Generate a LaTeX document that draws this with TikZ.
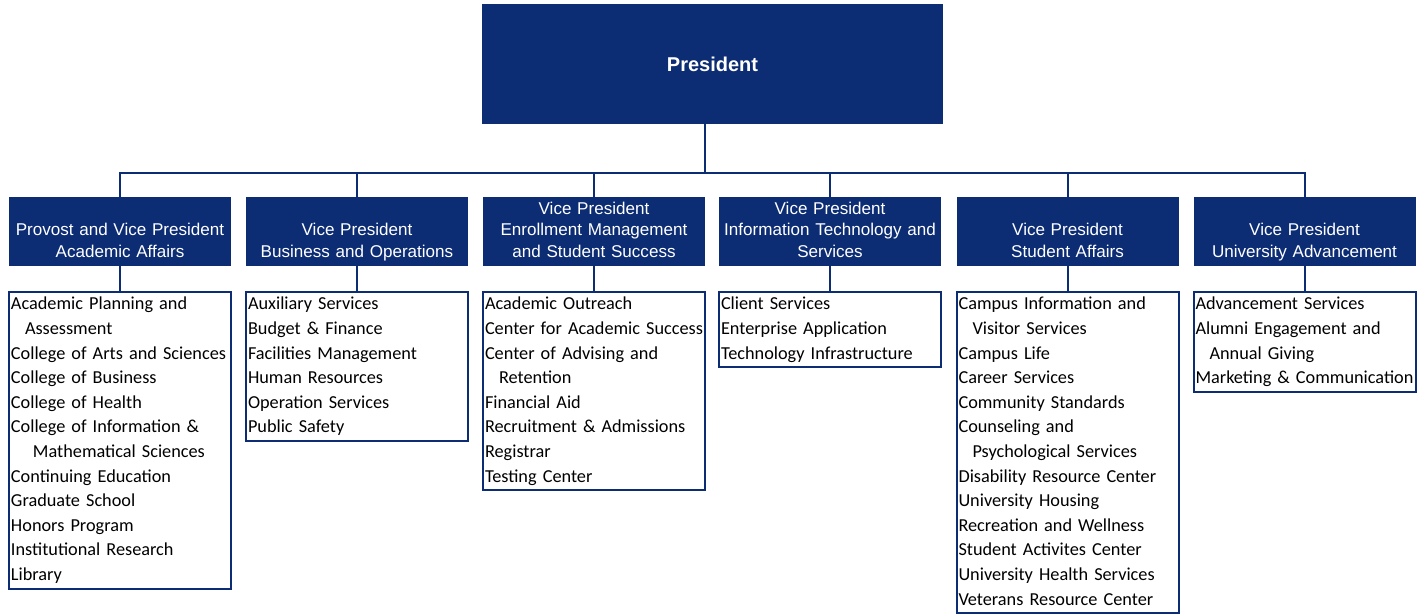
\documentclass[tikz,border=0pt]{standalone}
\usepackage{fontspec}
\setmainfont{Liberation Sans}
\newfontfamily\itemfont{Carlito}
\usetikzlibrary{positioning,calc}
\definecolor{navy}{RGB}{12,44,116}
\tikzset{presbox/.style={fill=navy,text=white,minimum width=345.75pt,minimum
height=90pt,inner sep=0pt,font=\fontsize{15}{18}\selectfont\bfseries},vpbox/.style={fill=navy,rectangle,text=white,minimum
width=166.5pt,minimum height=51.75pt,text width=163pt,align=center,inner sep=0pt,font=\fontsize{12.8}{16.1}\selectfont}}
\tikzstyle{listbox}   = [draw=navy, line width=1.5pt, anchor=north, text width=163.5pt, inner xsep=1.5pt, inner ysep=0.5pt, align=left, font=\itemfont\fontsize{13.7}{18.45}\selectfont]
\tikzstyle{link}      = [draw=navy, line width=1.5pt]
\newcommand{\ind}{\hspace*{10.5pt}}

\begin{document}
\begin{tikzpicture}[x=0.75pt,y=-0.75pt]
		\useasboundingbox (0,0) rectangle (1419,614);

		\node[presbox] (pres) at (712.5,64) {President};

		\begin{scope}[every node/.style={vpbox}]
			\node (vp1) at (120,231.5) {\strut\\Provost and Vice President\\Academic Affairs\strut};
			\node (vp2) at (357,231.5) {\strut\\Vice President\\Business and Operations\strut};
			\node (vp3) at (594,231.5) {\strut Vice President\\Enrollment Management\\and Student Success\strut};
			\node (vp4) at (830,231.5) {\strut Vice President\\Information Technology and\\Services\strut};
			\node (vp5) at (1067.5,231.5) {\strut\\Vice President\\Student Affairs\strut};
			\node (vp6) at (1304.5,231.5) {\strut\\Vice President\\University Advancement\strut};
		\end{scope}

		\node[listbox] (list1) at (120,291) {\strut Academic Planning and\\\ind Assessment\\College of Arts and Sciences\\College of Business\\College of Health\\College of Information \&\\\hspace*{16.5pt}Mathematical Sciences\\Continuing Education\\Graduate School\\Honors Program\\Institutional Research\\Library\strut};
		\node[listbox] (list2) at (357,291) {\strut Auxiliary Services\\Budget \& Finance\\Facilities Management\\Human Resources\\Operation Services\\Public Safety\strut};
		\node[listbox] (list3) at (594,291) {\strut Academic Outreach\\Center for Academic Success\\Center of Advising and\\\ind Retention\\Financial Aid\\Recruitment \& Admissions\\Registrar\\Testing Center\strut};
		\node[listbox] (list4) at (830,291) {\strut Client Services\\Enterprise Application\\Technology Infrastructure\strut};
		\node[listbox] (list5) at (1067.5,291) {\strut Campus Information and\\\ind Visitor Services\\Campus Life\\Career Services\\Community Standards\\Counseling and\\\ind Psychological Services\\Disability Resource Center\\University Housing\\Recreation and Wellness\\Student Activites Center\\University Health Services\\Veterans Resource Center\strut};
		\node[listbox] (list6) at (1304.5,291) {\strut Advancement Services\\Alumni Engagement and\\\ind Annual Giving\\Marketing \& Communication\strut};

		% connectors
		\coordinate (bus) at (0,173);
		\draw[link] (pres.south -| vp3.east) -- (bus -| vp3.east);
		\draw[link] (vp1.north) -- (bus -| vp1.north) -- (bus -| vp6.north) -- (vp6.north);
		\foreach \v in {2,...,5}
			\draw[link] (bus -| vp\v.north) -- (vp\v.north);
		\foreach \v in {1,...,6}
			\draw[link] (vp\v.south) -- (list\v.north);
	\end{tikzpicture}
\end{document}
